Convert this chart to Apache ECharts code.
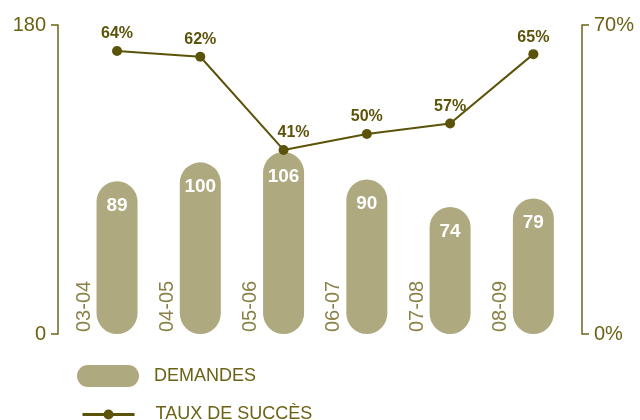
<!DOCTYPE html>
<html>
<head>
<meta charset="utf-8">
<script src="https://cdn.jsdelivr.net/npm/echarts@6/dist/echarts.min.js"></script>
<style>
  html, body { margin: 0; padding: 0; background: #fff; }
  #chart { width: 640px; height: 420px; }
</style>
</head>
<body>
<div id="chart"></div>
<script>
// data
var periodes = ['03-04', '04-05', '05-06', '06-07', '07-08', '08-09'];
var demandes = [89, 100, 106, 90, 74, 79];
// success rate: printed labels, and the height at which each point is drawn
var tauxLabels = ['64%', '62%', '41%', '50%', '57%', '65%'];
var tauxPlot = [64.1, 62.8, 41.7, 45.3, 47.7, 63.4];

var olive = '#6b6216';
var lineCol = '#5c530b';
var barCol = '#aea97f';
var font = '"Liberation Sans", Arial, Helvetica, sans-serif';

var chart = echarts.init(document.getElementById('chart'));

var option = {
  animation: false,
  textStyle: { fontFamily: font },
  grid: { left: 75.4, right: 65, top: 25, bottom: 86 },
  legend: [
    {
      data: [{ name: 'DEMANDES', icon: 'path://M11,0 H51 A11,11 0 0 1 51,22 H11 A11,11 0 0 1 11,0 Z' }],
      left: 77, top: 365, padding: 0,
      itemWidth: 62, itemHeight: 22,
      textStyle: { color: olive, fontSize: 18, fontFamily: font, padding: [0, 0, 0, 10] }
    },
    {
      data: ['TAUX DE SUCCÈS'],
      left: 81, top: 405.5, padding: 0,
      itemWidth: 52, itemHeight: 12.5,
      lineStyle: { width: 3 },
      textStyle: { color: olive, fontSize: 18, fontFamily: font, padding: [0, 0, 0, 16] }
    }
  ],
  xAxis: {
    type: 'category',
    data: periodes,
    axisLine: { show: false },
    axisTick: { show: false },
    axisLabel: { show: false }
  },
  yAxis: [
    {
      type: 'value', min: 0, max: 180, interval: 180,
      offset: 17.4,
      splitLine: { show: false },
      axisLine: { show: true, lineStyle: { color: olive, width: 1.5 } },
      axisTick: { show: true, length: 7, lineStyle: { color: olive, width: 1.5 } },
      axisLabel: { color: olive, fontSize: 20, margin: 12, fontFamily: font }
    },
    {
      type: 'value', min: 0, max: 70, interval: 70,
      offset: 7,
      splitLine: { show: false },
      axisLine: { show: true, lineStyle: { color: olive, width: 1.5 } },
      axisTick: { show: true, length: 7, lineStyle: { color: olive, width: 1.5 } },
      axisLabel: { color: olive, fontSize: 20, margin: 12, fontFamily: font, formatter: '{value}%' }
    }
  ],
  series: [
    {
      name: 'DEMANDES',
      type: 'bar',
      data: demandes,
      barWidth: 41,
      itemStyle: { color: barCol, borderRadius: 21 },
      label: {
        show: true, position: 'insideTop', distance: 15,
        color: '#fff', fontWeight: 'bold', fontSize: 19, fontFamily: font
      },
      z: 2
    },
    {
      name: 'periodes',
      type: 'scatter',
      data: periodes.map(function (p) { return [p, 0]; }),
      symbolSize: 1,
      itemStyle: { color: 'transparent' },
      silent: true,
      label: {
        show: true, position: 'inside', rotate: 90,
        align: 'left', verticalAlign: 'middle', offset: [2, -33],
        color: olive, fontSize: 20, fontFamily: font,
        formatter: function (p) { return p.value[0]; }
      },
      z: 3
    },
    {
      name: 'TAUX DE SUCCÈS',
      type: 'line',
      yAxisIndex: 1,
      // the label at the lowest point sits a little to the right, clear of the line
      data: tauxPlot.map(function (v, i) {
        return i === 2 ? { value: v, label: { offset: [10, 0] } } : v;
      }),
      symbol: 'circle',
      symbolSize: 10,
      itemStyle: { color: lineCol },
      lineStyle: { color: lineCol, width: 2 },
      label: {
        show: true, position: 'top', distance: 4,
        color: lineCol, fontWeight: 'bold', fontSize: 16, fontFamily: font,
        formatter: function (p) { return tauxLabels[p.dataIndex]; }
      },
      z: 5
    }
  ]
};

chart.setOption(option);
</script>
</body>
</html>
